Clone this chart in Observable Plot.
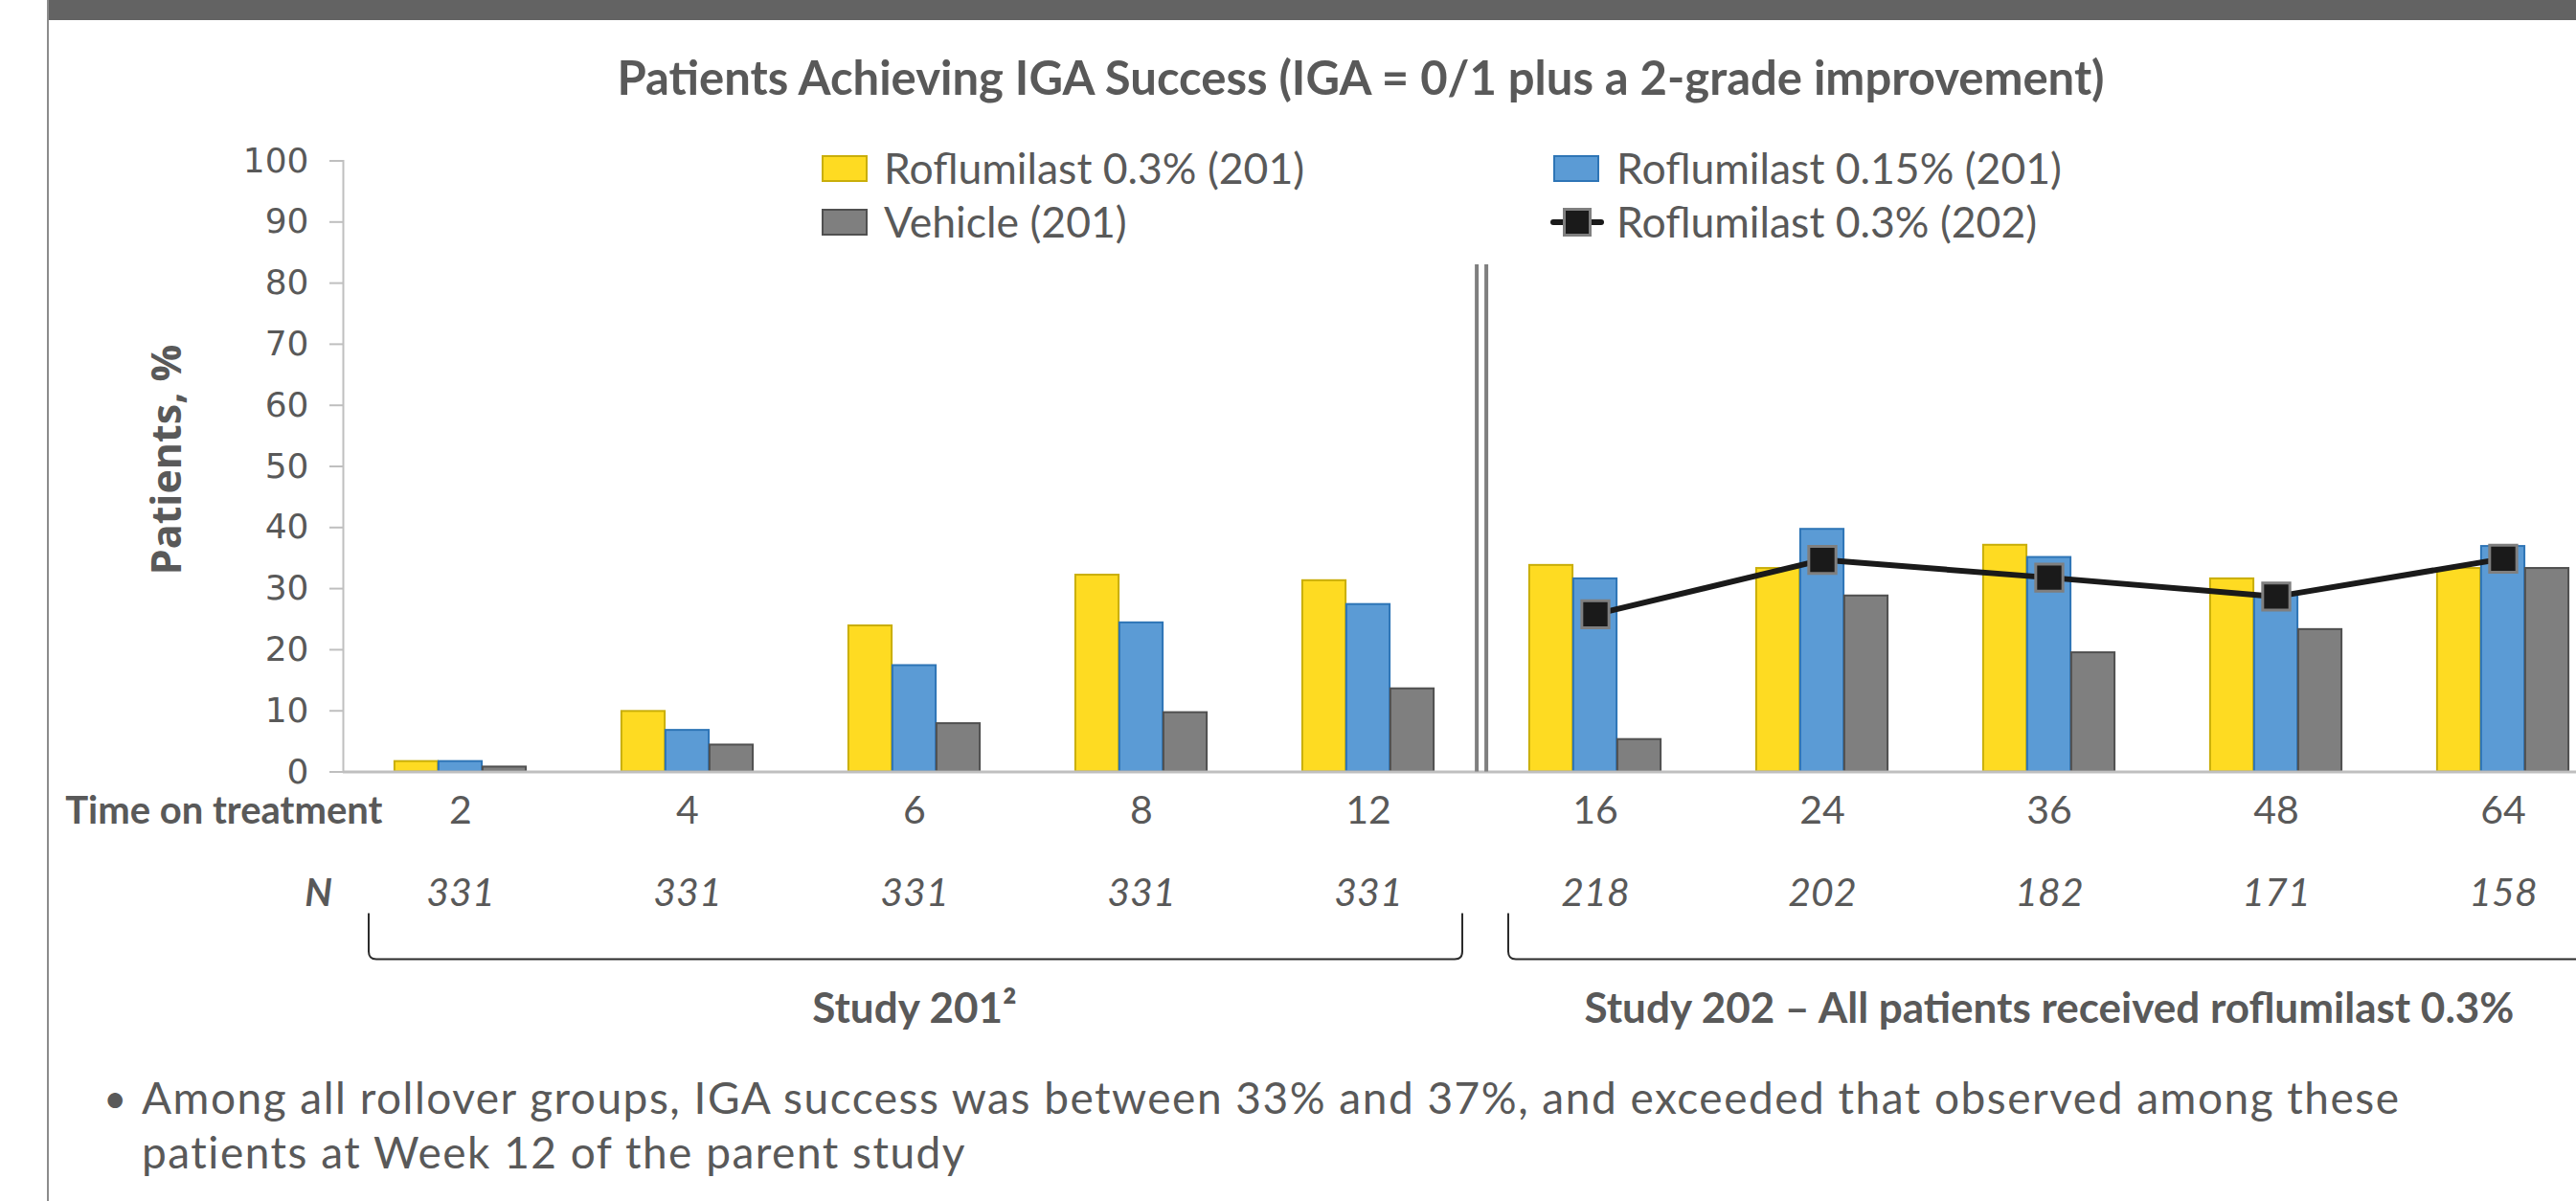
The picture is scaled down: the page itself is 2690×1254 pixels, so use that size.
<!DOCTYPE html>
<html><head><meta charset="utf-8">
<script src="https://cdn.jsdelivr.net/npm/d3@7"></script>
<script src="https://cdn.jsdelivr.net/npm/@observablehq/plot@0.6"></script>
<style>
html,body{margin:0;padding:0;background:#fff;}
#page{position:relative;width:2690px;height:1254px;overflow:hidden;background:#fff;font-family:Lato,sans-serif;color:#595959;}
#page svg.chart{position:absolute;left:0;top:0;}
.abs{position:absolute;white-space:nowrap;}
</style></head><body><div id="page"></div>
<script>
// ---------- data ----------
const weeks = ["2","4","6","8","12","16","24","36","48","64"];
const nValues = ["331","331","331","331","331","218","202","182","171","158"];
const roflu03_201 = [1.7, 9.9, 23.9, 32.2, 31.3, 33.8, 33.3, 37.1, 31.6, 33.3];
const roflu015_201 = [1.7, 6.8, 17.4, 24.4, 27.4, 31.6, 39.7, 35.1, 29.0, 36.9];
const vehicle_201 = [0.8, 4.4, 7.9, 9.7, 13.6, 5.3, 28.8, 19.5, 23.3, 33.3];
const weeks202 = ["16","24","36","48","64"];
const roflu03_202 = [25.8, 34.7, 31.8, 28.7, 34.9];
const yTicks = [0,10,20,30,40,50,60,70,80,90,100];
const seriesNames = ["Roflumilast 0.3% (201)", "Roflumilast 0.15% (201)", "Vehicle (201)", "Roflumilast 0.3% (202)"];
const studyLabels = ["Study 201\u00B2", "Study 202 \u2013 All patients received roflumilast 0.3%"];
const studySpans = [["2","12"],["16","64"]];
const studyCenters = ["6","36"];
const separatorBefore = ["16"];
const titleText = "Patients Achieving IGA Success (IGA = 0/1 plus a 2-grade improvement)";
const yTitle = "Patients, %";
const xRowLabel = "Time on treatment";
const nRowLabel = "N";
const bulletLines = ["Among all rollover groups, IGA success was between 33% and 37%, and exceeded that observed among these", "patients at Week 12 of the parent study"];

// ---------- layout ----------
const W = 2690, H = 1254;
const x0 = 358, bw = 237.8, x1 = x0 + bw * weeks.length;
const yBase = 805.5, yTop = 167.5;
const barW = 46;
const colors = {
  yellow: "#FEDB22", yellowStroke: "#C9AE0A",
  blue: "#5B9BD5", blueStroke: "#2E75B6",
  gray: "#7F7F7F", grayStroke: "#505050",
  text: "#595959", axis: "#BFBFBF", line: "#1A1A1A"
};

const rows = (vals) => weeks.map((w, i) => ({week: w, value: vals[i]}));
const weekRows = weeks.map((w, i) => ({week: w, n: nValues[i]}));
const lineRows = weeks202.map((w, i) => ({week: w, value: roflu03_202[i]}));
const inset = (i) => ({insetLeft: bw/2 - 1.5*barW + i*barW, insetRight: bw/2 - 1.5*barW + (2 - i)*barW});

function bracketMark(index, scales) {
  const x = scales.x;
  const band = x.bandwidth ? x.bandwidth() : bw;
  const yb = scales.y(0);
  const top = yb + 148, bot = yb + 196, r = 8;
  const g = d3.create("svg:g").attr("fill", "none").attr("stroke", "#2b2b2b").attr("stroke-width", 2);
  const pads = [[23, 20], [28, 20]];
  studySpans.forEach(([a, b], k) => {
    const xa = x(a) + pads[k][0], xb = x(b) + band - pads[k][1];
    g.append("path").attr("d",
      `M${xa},${top} L${xa},${bot - r} Q${xa},${bot} ${xa + r},${bot} L${xb - r},${bot} Q${xb},${bot} ${xb},${bot - r} L${xb},${top}`);
  });
  return g.node();
}

const chart = Plot.plot({
  width: W, height: H,
  marginTop: yTop, marginBottom: H - yBase, marginLeft: x0, marginRight: 0,
  x: {type: "band", domain: weeks, range: [x0, x1], padding: 0, axis: null},
  y: {domain: [0, 100]},
  style: {fontFamily: "Lato, sans-serif", color: colors.text, background: "transparent"},
  marks: [
    Plot.axisY({ticks: yTicks, tickSize: 14, tickPadding: 22, stroke: colors.axis, strokeWidth: 2,
      fill: colors.text, fontSize: 36, fontFamily: "DejaVu Sans", label: null}),
    Plot.frame({anchor: "left", stroke: colors.axis, strokeWidth: 2}),
    Plot.barY(rows(roflu03_201), {x: "week", y: "value", fill: colors.yellow, stroke: colors.yellowStroke, strokeWidth: 2, ...inset(0)}),
    Plot.barY(rows(roflu015_201), {x: "week", y: "value", fill: colors.blue, stroke: colors.blueStroke, strokeWidth: 2, ...inset(1)}),
    Plot.barY(rows(vehicle_201), {x: "week", y: "value", fill: colors.gray, stroke: colors.grayStroke, strokeWidth: 2, ...inset(2)}),
    Plot.ruleY([0], {stroke: colors.axis, strokeWidth: 3}),
    Plot.ruleX(separatorBefore, {x: d => d, y1: 0, y2: 83, dx: -bw/2 - 5, stroke: "#7F7F7F", strokeWidth: 4}),
    Plot.ruleX(separatorBefore, {x: d => d, y1: 0, y2: 83, dx: -bw/2 + 5, stroke: "#7F7F7F", strokeWidth: 4}),
    Plot.line(lineRows, {x: "week", y: "value", stroke: colors.line, strokeWidth: 6}),
    Plot.dot(lineRows, {x: "week", y: "value", symbol: "square", r: 16, fill: colors.line, stroke: "#7F7F7F", strokeWidth: 3}),
    Plot.text(weekRows, {x: "week", text: "week", frameAnchor: "bottom", dy: 41, fontSize: 41, fill: colors.text, lineAnchor: "middle"}),
    Plot.text(weekRows, {x: "week", text: "n", frameAnchor: "bottom", dy: 127, fontSize: 41, fontStyle: "italic", fill: colors.text, lineAnchor: "middle"}),
    Plot.text([xRowLabel], {frameAnchor: "bottom-left", text: d => d, textAnchor: "end", dx: 41, dy: 41, fontSize: 40, fontWeight: "bold", fill: colors.text, lineAnchor: "middle"}),
    Plot.text([nRowLabel], {frameAnchor: "bottom-left", text: d => d, textAnchor: "middle", dx: -26, dy: 127, fontSize: 40, fontWeight: "bold", fontStyle: "italic", fill: colors.text, lineAnchor: "middle"}),
    Plot.text(studyCenters, {x: d => d, text: (d, i) => studyLabels[i], frameAnchor: "bottom", dy: 248, fontSize: 44, fontWeight: "bold", fill: colors.text, lineAnchor: "middle"}),
    bracketMark
  ]
});
chart.classList.add("chart");

const page = document.getElementById("page");
page.appendChild(chart);

function addDiv(html, css) {
  const d = document.createElement("div");
  d.className = "abs";
  d.innerHTML = html;
  Object.assign(d.style, css);
  page.appendChild(d);
  return d;
}
// frame decorations
addDiv("", {left: "51px", top: "0px", width: (W - 51) + "px", height: "21px", background: "#636363"});
addDiv("", {left: "49px", top: "0px", width: "2px", height: H + "px", background: "#8C8C8C"});
// title
addDiv(titleText, {left: (1421 - 1200) + "px", width: "2400px", top: "48px", lineHeight: "64px", textAlign: "center", fontWeight: "bold", fontSize: "49px"});
// y-axis title
addDiv(yTitle, {left: "173px", top: "480px", transform: "translate(-50%,-50%) rotate(-90deg)", fontFamily: "'Open Sans', sans-serif", fontWeight: "bold", fontSize: "43px", lineHeight: "50px"});
// legend
function swatch(left, cy, fill, stroke) {
  addDiv("", {left: left + "px", top: (cy - 14) + "px", width: "44px", height: "24px", background: fill, border: `2px solid ${stroke}`});
}
const legendRows = [176, 232];
swatch(858, legendRows[0], colors.yellow, colors.yellowStroke);
swatch(1622, legendRows[0], colors.blue, colors.blueStroke);
swatch(858, legendRows[1], colors.gray, colors.grayStroke);
addDiv(`<svg width="56" height="34"><line x1="3" x2="53" y1="17" y2="17" stroke="${colors.line}" stroke-width="6" stroke-linecap="round"/><rect x="14.5" y="3.5" width="27" height="27" fill="${colors.line}" stroke="#7F7F7F" stroke-width="3"/></svg>`,
  {left: "1619px", top: (legendRows[1] - 17) + "px", width: "56px", height: "34px", lineHeight: "0"});
const legendText = [[923, 0, seriesNames[0]], [1688, 0, seriesNames[1]], [923, 1, seriesNames[2]], [1688, 1, seriesNames[3]]];
legendText.forEach(([l, r, t]) => addDiv(t, {left: l + "px", top: (legendRows[r] - 31) + "px", lineHeight: "60px", fontSize: "44.5px"}));
// bullet text
const bulletY = [1146, 1203];
addDiv("\u2022", {left: "108px", top: (bulletY[0] - 26) + "px", height: "52px", lineHeight: "52px", fontSize: "42px"});
bulletLines.forEach((t, i) => addDiv(t, {left: "148px", top: (bulletY[i] - 27) + "px", height: "54px", lineHeight: "54px", fontSize: "46px", letterSpacing: "1.5px"}));
</script></body></html>
